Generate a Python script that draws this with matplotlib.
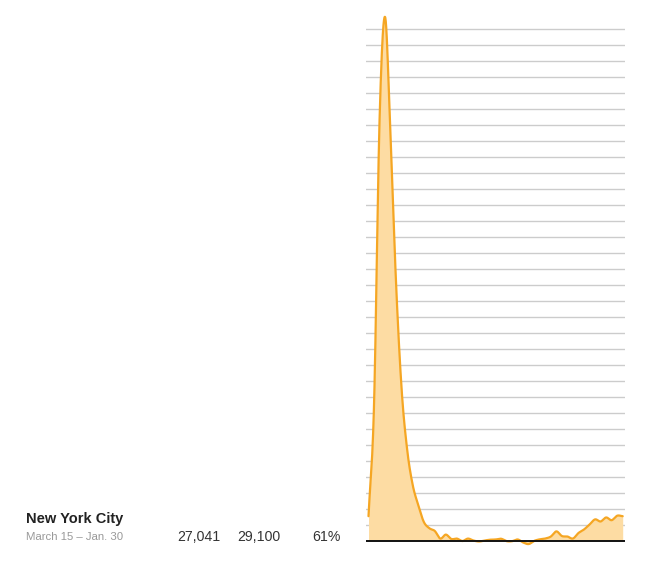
import numpy as np
import matplotlib
matplotlib.use("Agg")
import matplotlib.pyplot as plt

# Weekly values, percent above normal (March 15 – Jan. 30)
weeks = list(range(47))
pct_above_normal = [
    31, 170, 526, 655, 501, 320, 189, 114, 70, 45,
    24, 16, 12.5, 3, 8, 2.5, 3, 0, 3, 0.6,
    -0.6, 0.6, 1.6, 1.9, 2.8, -0.2, -0.2, 1.9, -1.9, -3.8,
    0.2, 2.1, 3.1, 5.6, 12, 6.2, 5.6, 3.1, 10, 14.4,
    20.6, 27, 24.4, 29.4, 26, 31.6, 31,
]
grid_values = list(range(20, 641, 20))

place = "New York City"
date_range = "March 15 – Jan. 30"
col_values = ["27,041", "29,100", "61%"]


def cardinal_curve(x, y, n=24):
    """Catmull-Rom style smooth line through the points (drawing only)."""
    x = np.asarray(x, float)
    y = np.asarray(y, float)
    h = np.diff(x)
    m = np.zeros_like(y)
    m[1:-1] = (y[2:] - y[:-2]) / (x[2:] - x[:-2])
    m[0] = (y[1] - y[0]) / h[0]
    m[-1] = (y[-1] - y[-2]) / h[-1]
    xs, ys = [], []
    for k in range(len(x) - 1):
        t = np.linspace(0, 1, n, endpoint=False)
        h00 = 2 * t**3 - 3 * t**2 + 1
        h10 = t**3 - 2 * t**2 + t
        h01 = -2 * t**3 + 3 * t**2
        h11 = t**3 - t**2
        xs.append(x[k] + t * h[k])
        ys.append(h00 * y[k] + h10 * h[k] * m[k] + h01 * y[k + 1] + h11 * h[k] * m[k + 1])
    xs.append([x[-1]])
    ys.append([y[-1]])
    return np.concatenate(xs), np.concatenate(ys)


W, H = 648, 570
fig = plt.figure(figsize=(W / 100, H / 100), dpi=100)
fig.patch.set_facecolor("white")

# axes: x 366..625 px, y 10..546 px
left, right, top, bottom = 366, 625, 10, 546
ax = fig.add_axes([left / W, 1 - bottom / H, (right - left) / W, (bottom - top) / H])
px_per_week = 5.526
ax.set_xlim(-2.5 / px_per_week, 46 + 2.3 / px_per_week)
px_per_unit = 0.8
ax.set_ylim(-5 / px_per_unit, (541 - top) / px_per_unit)
ax.axis("off")

for g in grid_values:
    ax.axhline(g, color="#cccccc", lw=1.0, zorder=1)

xs, ys = cardinal_curve(weeks, pct_above_normal)
ax.fill_between(xs, ys, 0, color="#fddca3", lw=0, zorder=2)
ax.plot(xs, ys, color="#f5a623", lw=1.6, zorder=3, solid_capstyle="round",
        solid_joinstyle="round")
ax.axhline(0, color="#111111", lw=1.4, zorder=4)


def fx(px):
    return px / W


def fy(py):
    return 1 - py / H


fig.text(fx(26), fy(522.5), place, fontsize=10.5, fontweight="bold",
         family="Liberation Sans", color="#222222", va="baseline", ha="left")
fig.text(fx(26), fy(539.5), date_range, fontsize=8.2,
         family="Liberation Sans", color="#999999", va="baseline", ha="left")
for txt, xr in zip(col_values, [220.5, 280.5, 340.5]):
    fig.text(fx(xr), fy(541), txt, fontsize=10.2, family="Liberation Sans",
             color="#333333", va="baseline", ha="right")

fig.savefig("out.png", dpi=100, facecolor="white")
